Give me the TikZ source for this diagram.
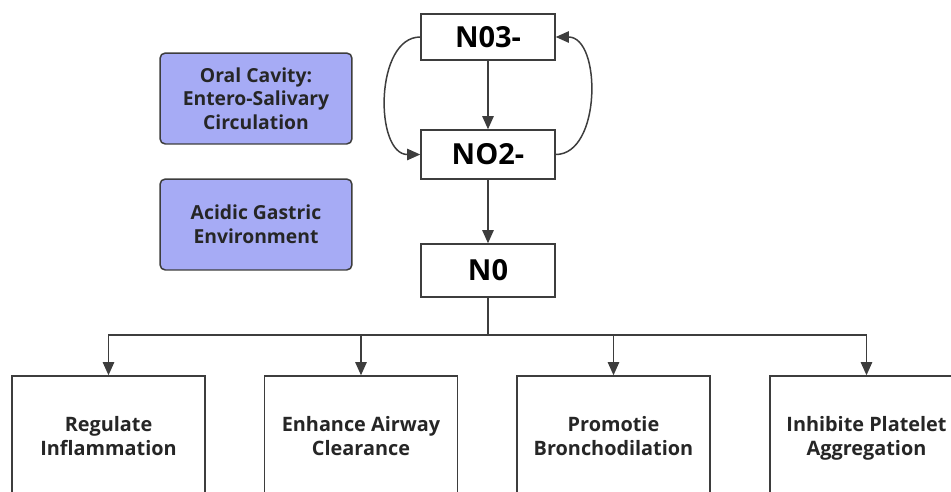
\documentclass[tikz,border=0pt]{standalone}
\usepackage{fontspec}
\setmainfont{Open Sans}
\usetikzlibrary{arrows.meta,calc}
\definecolor{LineClr}{rgb}{0.24,0.24,0.24}
\definecolor{SiteClr}{rgb}{0.65,0.67,0.96}

\begin{document}
\begin{tikzpicture}[x=0.02cm,y=-0.02cm,
  line width=0.85pt,color=LineClr,>={Triangle[length=7.5pt,width=6.5pt]},
  ion/.style={draw=LineClr,fill=white,minimum width=2.68cm,text=black,
    font=\fontsize{16.5}{20}\selectfont\bfseries},
  site/.style={draw=LineClr,fill=SiteClr,rounded corners=3pt,align=center,
    minimum width=3.84cm,minimum height=1.82cm,text=black!85,
    font=\fontsize{11}{13.5}\selectfont\bfseries},
  effect/.style={draw=LineClr,fill=white,align=center,minimum width=3.86cm,
    minimum height=2.4cm,text depth=0pt,text=black!85,
    font=\fontsize{11.3}{13.5}\selectfont\bfseries}]
\clip (0,0) rectangle (951,491);
\useasboundingbox (0,0) rectangle (951,491);

\node[ion,minimum height=0.92cm] (n3) at (488,37) {N03-};
\node[ion,minimum height=0.98cm] (n2) at (488,154.5) {NO2-};
\node[ion,minimum height=1.06cm] (n0) at (488,270.5) {N0};

\node[site] (oral) at (256,98.5) {Oral Cavity:\\Entero-Salivary\\Circulation};
\node[site] (acid) at (256,224.5) {Acidic Gastric\\Environment};

\node[effect] (e1) at (108.5,436) {Regulate\\Inflammation};
\node[effect] (e2) at (361,436) {Enhance Airway\\Clearance};
\node[effect] (e3) at (613.5,436) {Promotie\\Bronchodilation};
\node[effect] (e4) at (866.5,436) {Inhibite Platelet\\Aggregation};

\coordinate (fork) at (488,335);

\draw[->] (n3) -- (n2);
\draw[->] (n2) -- (n0);
\draw[->] (n3.west) to[out=180,in=180] (n2.west);
\draw[->] (n2.east) to[out=0,in=0] (n3.east);
\draw (n0) -- (fork);
\draw[->] (fork) -| (e1.north);
\draw[->] (fork) -| (e2.north);
\draw[->] (fork) -| (e3.north);
\draw[->] (fork) -| (e4.north);

\end{tikzpicture}
\end{document}
